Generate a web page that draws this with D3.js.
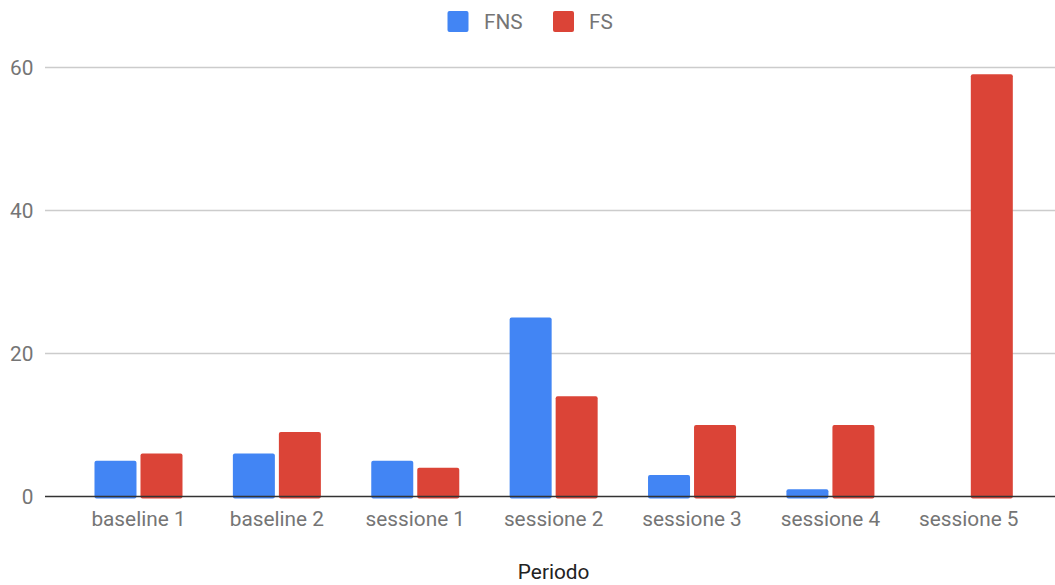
<!DOCTYPE html>
<html>
<head>
<meta charset="utf-8">
<script src="https://cdn.jsdelivr.net/npm/d3@7"></script>
<style>
  html, body { margin: 0; padding: 0; background: #fff; }
  svg { display: block; font-family: Roboto, "Noto Sans", Arial, sans-serif; }
</style>
</head>
<body>
<svg id="chart" width="1055" height="585"></svg>
<script>
// Periods on the x axis
const categories = ["baseline 1", "baseline 2", "sessione 1", "sessione 2", "sessione 3", "sessione 4", "sessione 5"];
// Series names and values per period
const seriesNames = ["FNS", "FS"];
const fnsValues = [5, 6, 5, 25, 3, 1, 0];
const fsValues = [6, 9, 4, 14, 10, 10, 59];
const yTicks = [0, 20, 40, 60];
const colors = ["#4285f4", "#db4437"];
const xTitle = "Periodo";

const rows = categories.map((c, i) => ({ category: c, values: [fnsValues[i], fsValues[i]] }));

const svg = d3.select("#chart");
const gridLeft = 45, gridRight = 1055;
const barLeft = 69.3, barRight = 1038;
const fontSize = 20.8;

const y = d3.scaleLinear().domain([0, 60]).range([496.5, 67]);
const x0 = d3.scaleBand().domain(categories).range([barLeft, barRight]).paddingInner(0.364).paddingOuter(0.182);
const x1 = d3.scaleBand().domain(seriesNames).range([0, x0.bandwidth()]).paddingInner(0.087);

// Horizontal gridlines
svg.append("g")
  .selectAll("line")
  .data(yTicks.filter(t => t !== 0))
  .join("line")
  .attr("x1", gridLeft).attr("x2", gridRight)
  .attr("y1", d => Math.round(y(d)) + 0.5).attr("y2", d => Math.round(y(d)) + 0.5)
  .attr("stroke", "#cccccc").attr("stroke-width", 1.4);

// Y axis labels
svg.append("g")
  .selectAll("text")
  .data(yTicks)
  .join("text")
  .attr("x", 33.5).attr("y", d => y(d) + 7.5)
  .attr("text-anchor", "end")
  .attr("font-size", fontSize)
  .attr("fill", "#757575")
  .text(d => d);

// Bars
const groups = svg.append("g")
  .selectAll("g")
  .data(rows)
  .join("g")
  .attr("transform", d => `translate(${x0(d.category)},0)`);

groups.selectAll("rect")
  .data(d => d.values.map((v, i) => ({ name: seriesNames[i], value: v, i })))
  .join("rect")
  .filter(d => d.value > 0)
  .attr("x", d => x1(d.name))
  .attr("width", x1.bandwidth())
  .attr("y", d => y(d.value))
  .attr("height", d => y(0) - y(d.value) + 2)
  .attr("rx", 2).attr("ry", 2)
  .attr("fill", d => colors[d.i]);

// Baseline
svg.append("line")
  .attr("x1", gridLeft).attr("x2", gridRight)
  .attr("y1", y(0)).attr("y2", y(0))
  .attr("stroke", "#333333").attr("stroke-width", 1.4);

// X axis labels
svg.append("g")
  .selectAll("text")
  .data(categories)
  .join("text")
  .attr("x", d => x0(d) + x0.bandwidth() / 2)
  .attr("y", 525.5)
  .attr("text-anchor", "middle")
  .attr("font-size", fontSize)
  .attr("fill", "#757575")
  .text(d => d);

// X axis title
svg.append("text")
  .attr("x", (barLeft + barRight) / 2)
  .attr("y", 578.5)
  .attr("text-anchor", "middle")
  .attr("font-size", fontSize)
  .attr("fill", "#222222")
  .text(xTitle);

// Legend
const legendItems = [
  { name: seriesNames[0], color: colors[0], x: 447.5, tx: 484 },
  { name: seriesNames[1], color: colors[1], x: 553, tx: 589 }
];
const legend = svg.append("g");
legend.selectAll("rect")
  .data(legendItems)
  .join("rect")
  .attr("x", d => d.x).attr("y", 11)
  .attr("width", 21).attr("height", 21)
  .attr("rx", 2).attr("ry", 2)
  .attr("fill", d => d.color);
legend.selectAll("text")
  .data(legendItems)
  .join("text")
  .attr("x", d => d.tx).attr("y", 28.5)
  .attr("font-size", fontSize)
  .attr("fill", "#757575")
  .text(d => d.name);
</script>
</body>
</html>
